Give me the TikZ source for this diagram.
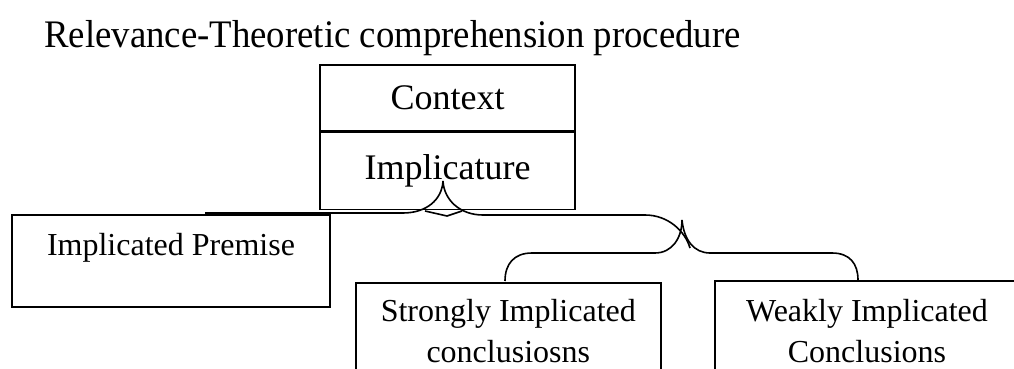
\documentclass[tikz,border=0pt]{standalone}
\usepackage{fontspec}
\setmainfont{Liberation Serif}
\usepackage{tikz}

\newcommand{\titletxt}{\fontsize{39}{44}\selectfont}
\newcommand{\bigtxt}{\fontsize{36}{40}\selectfont}
\newcommand{\smalltxt}{\fontsize{32}{41}\selectfont}

\begin{document}
\begin{tikzpicture}[x=1pt, y=-1pt, line width=1.6pt,
		box/.style={draw, rectangle, inner sep=2pt},
		lbl/.style={align=center, font=\smalltxt}]
		\useasboundingbox (0,0) rectangle (1014,369);
		\clip (0,0) rectangle (1014,369);

		% Title
		\node[anchor=base, font=\titletxt] (title) at (392.5,47.5) {\scalebox{0.943}[1]{Relevance-Theoretic comprehension procedure}};

		% Context / Implicature box
		\node[box, minimum width=255, minimum height=66, font=\bigtxt] (ctx) at (447.5,98) {Context};
		\node[box, minimum width=255, minimum height=77, font=\bigtxt, anchor=north] (impl) at (ctx.south) {Implicature};

		% Lower boxes
		\node[box, minimum width=318, minimum height=92, font=\smalltxt,
			text height=21.8pt, text depth=33.8pt] (prem) at (171,261) {Implicated Premise};
		\node[box, lbl, minimum width=305, minimum height=97.5, anchor=north west] (strong) at (355,282) {Strongly Implicated\\conclusiosns};
		\node[box, minimum width=330, minimum height=97.5, anchor=north west] (weak) at (714,280) {};
		\node[lbl] (weaktxt) at (867,331) {Weakly Implicated\\Conclusions};

		% Upper brace
		\coordinate (tipA) at (443,181);
		\draw (205,213) -- (403,213) .. controls (426,213) and (442,200) .. (tipA);
		\draw (tipA) .. controls (444,200) and (460,215) .. (483,215) -- (645,215)
			.. controls (668,215) and (685,231) .. (690,248);
		\draw (425,211) -- (447,216) -- (462,211);

		% Lower brace
		\coordinate (tipB) at (682,220);
		\draw (505,281) .. controls (505,264) and (514,253) .. (532,253) -- (655,253)
			.. controls (672,253) and (682,238) .. (tipB);
		\draw (tipB) .. controls (684,240) and (694,253) .. (710,253) -- (832,253)
			.. controls (850,253) and (858,264) .. (858,280);
	\end{tikzpicture}
\end{document}
